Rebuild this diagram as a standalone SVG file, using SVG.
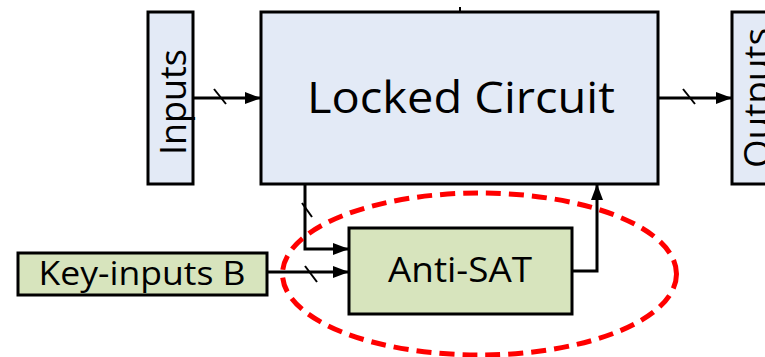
<svg xmlns="http://www.w3.org/2000/svg" width="765" height="357" viewBox="0 0 765 357">
  <defs>
    <marker id="arrow" markerWidth="16" markerHeight="12" refX="15" refY="6" orient="auto" markerUnits="userSpaceOnUse">
      <path d="M0,0 L16,6 L0,12 Z" fill="#000"/>
    </marker>
    <style>
      .blue { fill: #e3eaf6; stroke: #000; stroke-width: 3; }
      .green { fill: #d7e4bd; stroke: #000; stroke-width: 3; }
      .wire { fill: none; stroke: #000; stroke-width: 3; }
      .bus { stroke: #000; stroke-width: 2; }
      .label { font-family: "Open Sans", "Noto Sans", "DejaVu Sans", sans-serif; fill: #000; text-anchor: middle; }
    </style>
  </defs>
  <rect width="765" height="357" fill="#fff"/>

  <g id="inputs">
    <rect class="blue" x="148" y="12" width="45" height="172"/>
    <text class="label" font-size="37" transform="translate(186 102) rotate(-90)" textLength="106" lengthAdjust="spacingAndGlyphs">Inputs</text>
  </g>

  <g id="locked-circuit">
    <rect class="blue" x="261" y="12" width="397" height="172"/>
    <line x1="460" y1="7" x2="460" y2="12" stroke="#000" stroke-width="2"/>
    <text class="label" x="461" y="113" font-size="43" textLength="308" lengthAdjust="spacingAndGlyphs">Locked Circuit</text>
  </g>

  <g id="outputs">
    <rect class="blue" x="732" y="12" width="45" height="172"/>
    <text class="label" font-size="37" transform="translate(770 98) rotate(-90)" textLength="140" lengthAdjust="spacingAndGlyphs">Outputs</text>
  </g>

  <g id="key-inputs">
    <rect class="green" x="18" y="253" width="249" height="42"/>
    <text class="label" x="142" y="285" font-size="32" textLength="207" lengthAdjust="spacingAndGlyphs">Key-inputs B</text>
  </g>

  <g id="anti-sat">
    <rect class="green" x="349" y="228" width="223" height="86"/>
    <text class="label" x="460" y="282" font-size="35" textLength="144" lengthAdjust="spacingAndGlyphs">Anti-SAT</text>
  </g>

  <g id="connectors">
    <line class="wire" x1="193" y1="98" x2="260" y2="98" marker-end="url(#arrow)"/>
    <line class="bus" x1="214" y1="89" x2="226" y2="104"/>

    <line class="wire" x1="658" y1="98" x2="731" y2="98" marker-end="url(#arrow)"/>
    <line class="bus" x1="683" y1="89" x2="695" y2="104"/>

    <polyline class="wire" points="305,184 305,249 348,249" marker-end="url(#arrow)"/>
    <line class="bus" x1="302" y1="203" x2="312" y2="217"/>

    <line class="wire" x1="267" y1="272" x2="348" y2="272" marker-end="url(#arrow)"/>
    <line class="bus" x1="305" y1="266" x2="317" y2="282"/>

    <polyline class="wire" points="572,271 597,271 597,185" marker-end="url(#arrow)"/>
  </g>

  <g id="highlight">
    <ellipse cx="479.5" cy="274" rx="197" ry="81" fill="none" stroke="#f00" stroke-width="5" stroke-dasharray="15 8"/>
  </g>
</svg>
